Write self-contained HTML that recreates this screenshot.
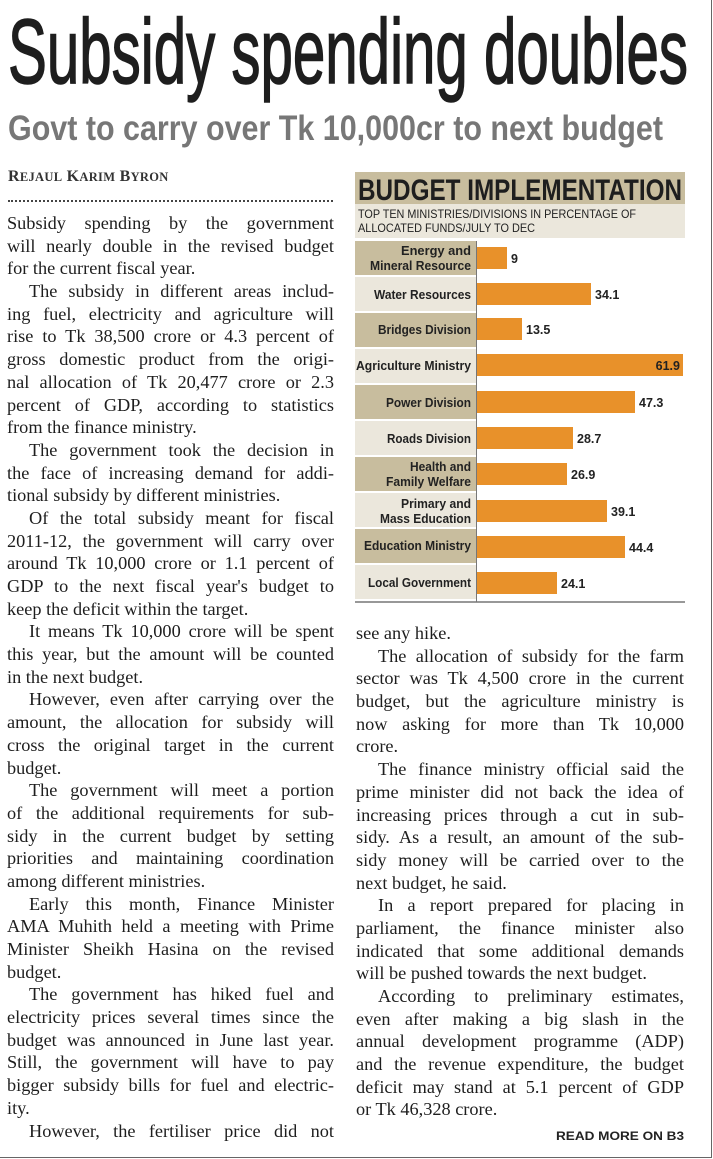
<!DOCTYPE html>
<html><head><meta charset="utf-8"><style>
html,body{margin:0;padding:0;background:#fff;}
body{width:713px;height:1159px;position:relative;overflow:hidden;}
.frame{position:absolute;left:0;top:0;width:711px;height:1157px;border-right:1.5px solid #666;border-bottom:1.5px solid #666;}
.col{position:absolute;font-family:"Liberation Serif",serif;font-size:18.3px;color:#1e1e1e;line-height:22.7px;}
.col div{white-space:nowrap;height:22.7px;}
.j{text-align:justify;text-align-last:justify;}
.i{text-indent:22px;}
</style></head><body>
<div class="frame"></div>
<svg width="713" height="160" style="position:absolute;left:0;top:0">
<text x="8" y="83" font-family="Liberation Sans, sans-serif" font-size="92" fill="#1e1e1e" stroke="#1e1e1e" stroke-width="1.5" textLength="680" lengthAdjust="spacingAndGlyphs">Subsidy spending doubles</text>
<text x="8" y="140" font-family="Liberation Sans, sans-serif" font-weight="bold" font-size="35" fill="#777" textLength="655" lengthAdjust="spacingAndGlyphs">Govt to carry over Tk 10,000cr to next budget</text>
</svg>
<div style="position:absolute;left:8px;top:168px;font-family:'Liberation Serif',serif;font-weight:bold;font-size:16px;color:#333;letter-spacing:0.3px">R<span style="font-size:12.5px">EJAUL</span> K<span style="font-size:12.5px">ARIM</span> B<span style="font-size:12.5px">YRON</span></div>
<div style="position:absolute;left:8px;top:200px;width:325px;border-top:2.5px dotted #444"></div>
<div class="col" style="left:7px;top:212px;width:327px">
<div class="j">Subsidy spending by the government</div>
<div class="j">will nearly double in the revised budget</div>
<div>for the current fiscal year.</div>
<div class="j i">The subsidy in different areas includ-</div>
<div class="j">ing fuel, electricity and agriculture will</div>
<div class="j">rise to Tk 38,500 crore or 4.3 percent of</div>
<div class="j">gross domestic product from the origi-</div>
<div class="j">nal allocation of Tk 20,477 crore or 2.3</div>
<div class="j">percent of GDP, according to statistics</div>
<div>from the finance ministry.</div>
<div class="j i">The government took the decision in</div>
<div class="j">the face of increasing demand for addi-</div>
<div>tional subsidy by different ministries.</div>
<div class="j i">Of the total subsidy meant for fiscal</div>
<div class="j">2011-12, the government will carry over</div>
<div class="j">around Tk 10,000 crore or 1.1 percent of</div>
<div class="j">GDP to the next fiscal year's budget to</div>
<div>keep the deficit within the target.</div>
<div class="j i">It means Tk 10,000 crore will be spent</div>
<div class="j">this year, but the amount will be counted</div>
<div>in the next budget.</div>
<div class="j i">However, even after carrying over the</div>
<div class="j">amount, the allocation for subsidy will</div>
<div class="j">cross the original target in the current</div>
<div>budget.</div>
<div class="j i">The government will meet a portion</div>
<div class="j">of the additional requirements for sub-</div>
<div class="j">sidy in the current budget by setting</div>
<div class="j">priorities and maintaining coordination</div>
<div>among different ministries.</div>
<div class="j i">Early this month, Finance Minister</div>
<div class="j">AMA Muhith held a meeting with Prime</div>
<div class="j">Minister Sheikh Hasina on the revised</div>
<div>budget.</div>
<div class="j i">The government has hiked fuel and</div>
<div class="j">electricity prices several times since the</div>
<div class="j">budget was announced in June last year.</div>
<div class="j">Still, the government will have to pay</div>
<div class="j">bigger subsidy bills for fuel and electric-</div>
<div>ity.</div>
<div class="j i">However, the fertiliser price did not</div>
</div>
<div class="col" style="left:356px;top:622px;width:328px">
<div>see any hike.</div>
<div class="j i">The allocation of subsidy for the farm</div>
<div class="j">sector was Tk 4,500 crore in the current</div>
<div class="j">budget, but the agriculture ministry is</div>
<div class="j">now asking for more than Tk 10,000</div>
<div>crore.</div>
<div class="j i">The finance ministry official said the</div>
<div class="j">prime minister did not back the idea of</div>
<div class="j">increasing prices through a cut in sub-</div>
<div class="j">sidy. As a result, an amount of the sub-</div>
<div class="j">sidy money will be carried over to the</div>
<div>next budget, he said.</div>
<div class="j i">In a report prepared for placing in</div>
<div class="j">parliament, the finance minister also</div>
<div class="j">indicated that some additional demands</div>
<div>will be pushed towards the next budget.</div>
<div class="j i">According to preliminary estimates,</div>
<div class="j">even after making a big slash in the</div>
<div class="j">annual development programme (ADP)</div>
<div class="j">and the revenue expenditure, the budget</div>
<div class="j">deficit may stand at 5.1 percent of GDP</div>
<div>or Tk 46,328 crore.</div>
</div>
<svg width="140" height="20" style="position:absolute;left:550px;top:1127px">
<text x="6" y="13" font-family="Liberation Sans, sans-serif" font-weight="bold" font-size="12" fill="#222" textLength="128" lengthAdjust="spacingAndGlyphs">READ MORE ON B3</text>
</svg>
<svg width="340" height="440" style="position:absolute;left:350px;top:170px" font-family="Liberation Sans, sans-serif">
<rect x="5" y="2" width="330" height="32" fill="#c8bd9e"/>
<text x="8" y="30" font-weight="bold" font-size="30" fill="#1e1e1e" textLength="324" lengthAdjust="spacingAndGlyphs">BUDGET IMPLEMENTATION</text>
<rect x="5" y="34" width="330" height="34" fill="#ebe7dc"/>
<text x="8" y="48" font-size="12" fill="#222" textLength="278" lengthAdjust="spacingAndGlyphs">TOP TEN MINISTRIES/DIVISIONS IN PERCENTAGE OF</text>
<text x="8" y="62" font-size="12" fill="#222" textLength="177" lengthAdjust="spacingAndGlyphs">ALLOCATED FUNDS/JULY TO DEC</text>
<g font-weight="bold" font-size="12.5" fill="#222">
<rect x="5" y="71" width="121" height="34" fill="#c8bd9e"/>
<rect x="5" y="107" width="121" height="34" fill="#ebe7dc"/>
<rect x="5" y="143" width="121" height="34" fill="#c8bd9e"/>
<rect x="5" y="179" width="121" height="34" fill="#ebe7dc"/>
<rect x="5" y="215" width="121" height="34" fill="#c8bd9e"/>
<rect x="5" y="251" width="121" height="34" fill="#ebe7dc"/>
<rect x="5" y="287" width="121" height="34" fill="#c8bd9e"/>
<rect x="5" y="323" width="121" height="34" fill="#ebe7dc"/>
<rect x="5" y="359" width="121" height="34" fill="#c8bd9e"/>
<rect x="5" y="395" width="121" height="34" fill="#ebe7dc"/>
<text x="121" y="85" text-anchor="end" textLength="70" lengthAdjust="spacingAndGlyphs">Energy and</text><text x="121" y="100" text-anchor="end" textLength="101" lengthAdjust="spacingAndGlyphs">Mineral Resource</text>
<text x="121" y="129" text-anchor="end" textLength="97" lengthAdjust="spacingAndGlyphs">Water Resources</text>
<text x="121" y="164" text-anchor="end" textLength="93" lengthAdjust="spacingAndGlyphs">Bridges Division</text>
<text x="121" y="200" text-anchor="end" textLength="115" lengthAdjust="spacingAndGlyphs">Agriculture Ministry</text>
<text x="121" y="237" text-anchor="end" textLength="85" lengthAdjust="spacingAndGlyphs">Power Division</text>
<text x="121" y="273" text-anchor="end" textLength="84" lengthAdjust="spacingAndGlyphs">Roads Division</text>
<text x="121" y="301" text-anchor="end" textLength="61" lengthAdjust="spacingAndGlyphs">Health and</text><text x="121" y="316" text-anchor="end" textLength="85" lengthAdjust="spacingAndGlyphs">Family Welfare</text>
<text x="121" y="338" text-anchor="end" textLength="70" lengthAdjust="spacingAndGlyphs">Primary and</text><text x="121" y="353" text-anchor="end" textLength="91" lengthAdjust="spacingAndGlyphs">Mass Education</text>
<text x="121" y="380" text-anchor="end" textLength="107" lengthAdjust="spacingAndGlyphs">Education Ministry</text>
<text x="121" y="417" text-anchor="end" textLength="103" lengthAdjust="spacingAndGlyphs">Local Government</text>
</g>
<line x1="126.5" y1="71" x2="126.5" y2="432" stroke="#777" stroke-width="1"/>
<g fill="#e8912a">
<rect x="127" y="77" width="30" height="22"/>
<rect x="127" y="113" width="114" height="22"/>
<rect x="127" y="148" width="45" height="22"/>
<rect x="127" y="184" width="206" height="22"/>
<rect x="127" y="221" width="158" height="22"/>
<rect x="127" y="257" width="96" height="22"/>
<rect x="127" y="293" width="90" height="22"/>
<rect x="127" y="330" width="130" height="22"/>
<rect x="127" y="366" width="148" height="22"/>
<rect x="127" y="402" width="80" height="22"/>
</g>
<g font-weight="bold" font-size="12.5" fill="#222">
<text x="161" y="93">9</text>
<text x="245" y="129">34.1</text>
<text x="176" y="164">13.5</text>
<text x="330" y="200" text-anchor="end">61.9</text>
<text x="289" y="237">47.3</text>
<text x="227" y="273">28.7</text>
<text x="221" y="309">26.9</text>
<text x="261" y="346">39.1</text>
<text x="279" y="382">44.4</text>
<text x="211" y="418">24.1</text>
</g>
<line x1="5" y1="432" x2="335" y2="432" stroke="#777" stroke-width="1.5"/>
</svg>
</body></html>
